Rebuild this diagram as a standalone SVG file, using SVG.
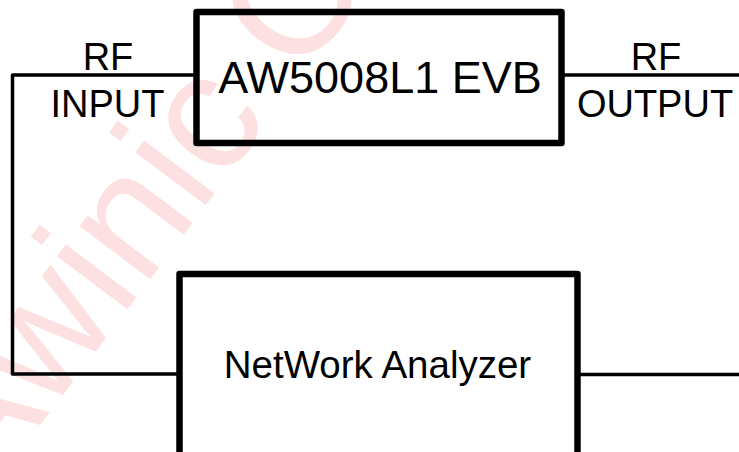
<svg xmlns="http://www.w3.org/2000/svg" width="739" height="452" viewBox="0 0 739 452">
<style>
.box{fill:none;stroke:#000;stroke-width:6.5;stroke-linejoin:round}
.wire{fill:none;stroke:#000;stroke-width:3.5;stroke-linejoin:round}
.t{font-family:"Liberation Sans",Arial,sans-serif;fill:#000;text-anchor:middle}
.wm{font-family:"Liberation Sans",Arial,sans-serif;fill:#fde0e1;font-size:167px}
</style>
<rect width="739" height="452" fill="#fff"/>
<text class="wm" transform="translate(-17,501) rotate(-53)">Awinic C</text>
<g id="connectors">
<polyline class="wire" points="196.5,75 12.5,75 12.5,374 179.5,374"/>
<line class="wire" x1="561.5" y1="75" x2="739" y2="75"/>
<line class="wire" x1="577.5" y1="374.5" x2="739" y2="374.5"/>
</g>
<g id="evb">
<rect class="box" x="196.5" y="12" width="365" height="131"/>
<text class="t" x="380" y="92.5" font-size="45">AW5008L1 EVB</text>
</g>
<g id="analyzer">
<rect class="box" x="179.5" y="274" width="398" height="200"/>
<text class="t" x="377.5" y="378.3" font-size="38.5">NetWork Analyzer</text>
</g>
<g id="rf-input">
<text class="t" x="108" y="70" font-size="38">RF</text>
<text class="t" x="107.5" y="117" font-size="38">INPUT</text>
</g>
<g id="rf-output">
<text class="t" x="656" y="70" font-size="38">RF</text>
<text class="t" x="655" y="116.7" font-size="38">OUTPUT</text>
</g>
</svg>
